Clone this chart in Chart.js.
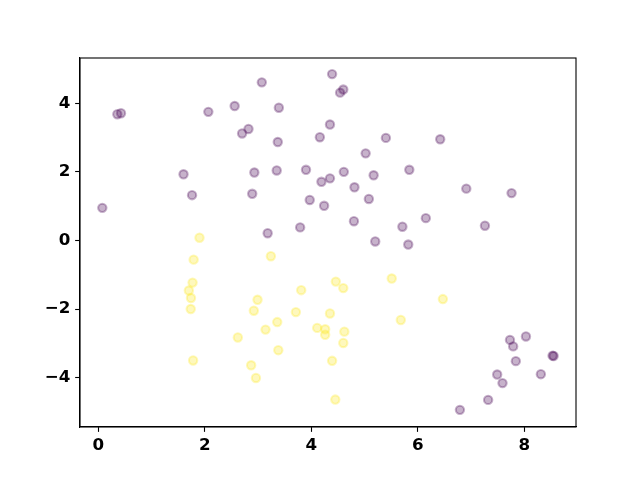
<!DOCTYPE html>
<html>
<head>
<meta charset="utf-8">
<script src="https://cdn.jsdelivr.net/npm/chart.js@4/dist/chart.umd.min.js"></script>
<style>
html,body{margin:0;padding:0;background:#fff;}
#wrap{width:640px;height:480px;}
</style>
</head>
<body>
<div id="wrap"><canvas id="c" width="640" height="480"></canvas></div>
<script>
// Cluster 0 (purple)
const purpleX = [0.075,0.357,0.426,2.066,2.56,2.70,1.60,1.76,3.07,4.39,4.60,4.54,3.39,2.82,4.35,3.37,4.16,5.40,5.02,2.93,3.35,3.90,4.61,5.17,4.19,4.35,4.81,5.84,6.42,6.91,7.76,6.15,5.71,7.26,5.82,2.89,3.97,4.24,5.08,4.80,3.79,3.18,5.20,7.73,8.03,7.79,8.53,8.55,7.84,8.31,7.49,7.59,7.32,6.79];
const purpleY = [0.95,3.68,3.71,3.75,3.92,3.12,1.93,1.32,4.61,4.85,4.40,4.31,3.87,3.25,3.38,2.87,3.01,2.99,2.54,1.98,2.04,2.06,2.00,1.90,1.71,1.81,1.55,2.06,2.95,1.51,1.38,0.65,0.40,0.43,-0.12,1.36,1.18,1.01,1.21,0.56,0.38,0.21,-0.03,-2.90,-2.80,-3.09,-3.36,-3.37,-3.52,-3.90,-3.91,-4.16,-4.65,-4.94];
// Cluster 1 (yellow)
const yellowX = [1.90,1.79,1.77,1.70,1.74,1.735,2.62,1.78,3.24,5.51,4.46,4.60,3.81,2.99,6.47,2.92,3.71,4.35,3.36,3.14,4.11,4.26,4.26,4.62,4.60,5.68,3.38,4.39,2.87,2.96,4.45];
const yellowY = [0.08,-0.56,-1.23,-1.46,-1.68,-2.00,-2.83,-3.50,-0.46,-1.11,-1.20,-1.39,-1.45,-1.73,-1.71,-2.05,-2.09,-2.13,-2.38,-2.60,-2.55,-2.59,-2.75,-2.66,-2.99,-2.32,-3.20,-3.51,-3.64,-4.01,-4.64];
const xTicks = [0,2,4,6,8];
const yTicks = [-4,-2,0,2,4];

const toPts = (xs, ys) => xs.map((x, i) => ({x: x, y: ys[i]}));
const purple = 'rgba(68,1,84,0.3)';
const yellow = 'rgba(253,231,37,0.3)';

const boxPlugin = {
  id: 'box',
  afterDraw(chart) {
    const a = chart.chartArea, ctx = chart.ctx;
    ctx.save();
    ctx.strokeStyle = '#000';
    ctx.lineWidth = 1.1;
    ctx.strokeRect(a.left, a.top, a.right - a.left, a.bottom - a.top);
    ctx.restore();
  }
};

const fmt = v => String(v).replace('-', '\u2212');
const tickFont = {family: '"DejaVu Sans"', size: 16.7, weight: 'bold'};

new Chart(document.getElementById('c'), {
  type: 'scatter',
  data: {
    datasets: [
      {data: toPts(purpleX, purpleY), backgroundColor: purple, borderColor: purple, pointRadius: 4.17, pointHoverRadius: 4.17, borderWidth: 2.08},
      {data: toPts(yellowX, yellowY), backgroundColor: yellow, borderColor: yellow, pointRadius: 4.17, pointHoverRadius: 4.17, borderWidth: 2.08}
    ]
  },
  options: {
    responsive: false,
    devicePixelRatio: 1,
    animation: false,
    layout: {padding: {left: 0, right: 64, top: 58, bottom: 0}},
    plugins: {legend: {display: false}, tooltip: {enabled: false}},
    scales: {
      x: {
        type: 'linear', min: -0.344, max: 8.97,
        afterBuildTicks: s => { s.ticks = xTicks.map(v => ({value: v})); },
        afterFit: s => { s.height = 53; },
        grid: {display: true, drawOnChartArea: false, drawTicks: true, tickLength: 4.86, tickColor: '#000', tickWidth: 1.1},
        border: {display: true, color: '#000', width: 1.1},
        ticks: {color: '#000', font: tickFont, padding: 4, maxRotation: 0, callback: v => fmt(v)}
      },
      y: {
        type: 'linear', min: -5.44, max: 5.32,
        afterBuildTicks: s => { s.ticks = yTicks.map(v => ({value: v})); },
        afterFit: s => { s.width = 80; },
        grid: {display: true, drawOnChartArea: false, drawTicks: true, tickLength: 4.86, tickColor: '#000', tickWidth: 1.1},
        border: {display: true, color: '#000', width: 1.1},
        ticks: {color: '#000', font: tickFont, padding: 4.86, callback: v => fmt(v)}
      }
    }
  },
  plugins: [boxPlugin]
});
</script>
</body>
</html>
